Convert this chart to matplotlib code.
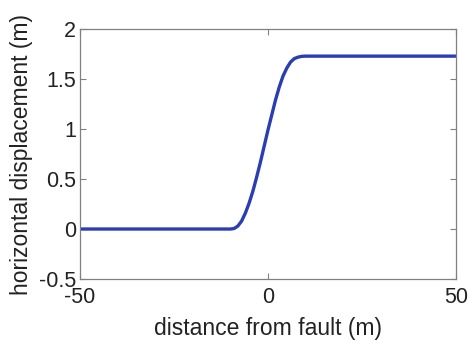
import numpy as np
import matplotlib
matplotlib.use("Agg")
import matplotlib.pyplot as plt

# distance from fault (m) and horizontal displacement (m)
distance = [-50, -10, -9, -8, -7, -6, -5, -4, -3, -2, -1, 0, 1, 2, 3, 4, 5, 6, 7, 8, 9, 10, 50]
displacement = [0.0, 0.0, 0.005, 0.03, 0.08, 0.16, 0.26, 0.38, 0.52, 0.67, 0.83, 0.99,
                1.14, 1.29, 1.42, 1.53, 1.61, 1.67, 1.705, 1.72, 1.728, 1.73, 1.73]

x_ticks = [-50, 0, 50]
x_tick_labels = ["-50", "0", "50"]
y_ticks = [-0.5, 0, 0.5, 1, 1.5, 2]
y_tick_labels = ["-0.5", "0", "0.5", "1", "1.5", "2"]

plt.rcParams['font.family'] = ['Liberation Sans', 'DejaVu Sans']

fig = plt.figure(figsize=(4.73, 3.47), dpi=100)
ax = fig.add_axes([0.169, 0.196, 0.795, 0.72])

ax.plot(distance, displacement, color='#2b3db3', linewidth=2.4, solid_capstyle='round')

ax.set_xlim(-50, 50)
ax.set_ylim(-0.5, 2)
ax.set_xticks(x_ticks)
ax.set_xticklabels(x_tick_labels)
ax.set_yticks(y_ticks)
ax.set_yticklabels(y_tick_labels)

ax.tick_params(direction='in', length=4, width=0.8, color='#808080',
               top=True, right=True, labelsize=15.5, labelcolor='#222222')
ax.tick_params(axis='x', pad=6)
ax.tick_params(axis='y', pad=3)
for spine in ax.spines.values():
    spine.set_color('#808080')
    spine.set_linewidth(0.9)

ax.set_xlabel('distance from fault (m)', fontsize=16.5, color='#222222', labelpad=6)
ax.set_ylabel('horizontal displacement (m)', fontsize=16.5, color='#222222', labelpad=4)

plt.savefig('out.png', dpi=100)
